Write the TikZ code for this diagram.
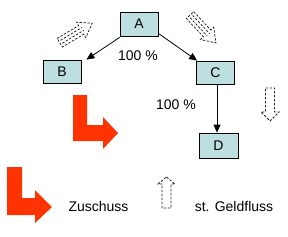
\documentclass[tikz,border=0pt]{standalone}
\usepackage{fontspec}
\setmainfont{Liberation Sans}
\usetikzlibrary{arrows.meta}
\definecolor{boxfill}{RGB}{189,223,224}
\definecolor{redarrow}{RGB}{255,51,0}
\definecolor{dashgray}{RGB}{30,30,30}
\begin{document}
\begin{tikzpicture}[x=1pt,y=-1pt,
  font=\fontsize{14}{16}\selectfont,
  box/.style={draw=black,fill=boxfill,line width=0.8pt,minimum width=38pt,minimum height=24pt,inner sep=0pt},
  conn/.style={draw=black,line width=0.8pt,-{Triangle[length=8pt,width=7pt]}},
  lbl/.style={inner sep=0pt,anchor=center},
  dashedarrow/.style={draw=dashgray,line width=0.75pt,dash pattern=on 2.4pt off 1.6pt},
  redfill/.style={fill=redarrow}]
\useasboundingbox (0,0) rectangle (288,236);
% boxes
\node[box] (A) at (139,24) {A};
\node[box,minimum height=23pt] (B) at (62,71.5) {B};
\node[box,minimum height=23pt] (C) at (215.5,72.5) {C};
\node[box,minimum width=39pt,minimum height=25pt] (D) at (218.5,145.5) {D};
% connectors
\draw[conn] ([yshift=-1pt]A.south west) -- ([xshift=5pt]B.north east);
\draw[conn] ([yshift=3pt]A.south east) -- ([xshift=1pt]C.north west);
\draw[conn] ([xshift=1.5pt]C.south) -- ([xshift=1.5pt]C.south |- D.north);
% labels
\node[lbl] (p1) at (138,56) {100 \%};
\node[lbl] (p2) at (176,105) {100 \%};
\node[lbl] (z) at (98.5,206) {Zuschuss};
\node[lbl] (g) at (234,206) {st. Geldfluss};
% red L arrows
\fill[redfill] (73,95) -- (87,95) -- (87,125) -- (103,125) -- (103,117) -- (118,133)
  -- (103,149) -- (103,141) -- (73,141) -- cycle;
\fill[redfill] (7,167) -- (22,167) -- (22,198) -- (35,198) -- (35,190) -- (52,207)
  -- (35,223) -- (35,215) -- (7,215) -- cycle;
% dashed block arrows
\draw[dashedarrow] (265.5,88) -- (274.5,88) -- (274.5,112) -- (279,112) -- (270,121)
  -- (261,112) -- (265.5,112) -- cycle;
\draw[dashedarrow] (166.5,177) -- (175,184) -- (171,184) -- (171,208) -- (162,208)
  -- (162,184) -- (158,184) -- cycle;
\begin{scope}[shift={(76,33)},rotate=31]
  \draw[dashedarrow] (-19,-5) -- (6,-5) -- (6,-9) -- (19,0) -- (6,9) -- (6,5) -- (-19,5) -- cycle;
  \draw[dashedarrow] (-17,-1.7) -- (8,-1.7);
  \draw[dashedarrow] (-17,1.7) -- (8,1.7);
\end{scope}
\begin{scope}[shift={(203,29)},rotate=-47]
  \draw[dashedarrow] (-19,-5) -- (6,-5) -- (6,-9) -- (19,0) -- (6,9) -- (6,5) -- (-19,5) -- cycle;
  \draw[dashedarrow] (-17,-1.7) -- (8,-1.7);
  \draw[dashedarrow] (-17,1.7) -- (8,1.7);
\end{scope}
\end{tikzpicture}
\end{document}
